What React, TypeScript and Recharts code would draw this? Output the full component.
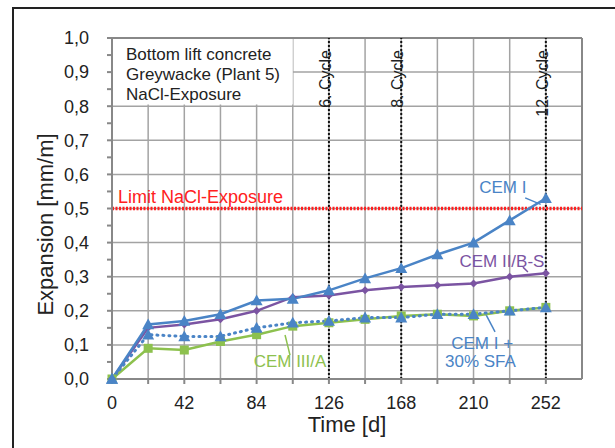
import {
  LineChart,
  Line,
  XAxis,
  YAxis,
  CartesianGrid,
  ReferenceLine,
  ReferenceArea,
  ReferenceDot,
} from 'recharts'

const days = [0, 21, 42, 63, 84, 105, 126, 147, 168, 189, 210, 231, 252]
const cemI = [0, 0.16, 0.17, 0.19, 0.23, 0.235, 0.26, 0.295, 0.325, 0.365, 0.4, 0.465, 0.53]
const cemIIBS = [0, 0.15, 0.16, 0.175, 0.2, 0.24, 0.245, 0.26, 0.27, 0.275, 0.28, 0.3, 0.31]
const cemISFA = [0, 0.13, 0.125, 0.125, 0.15, 0.165, 0.17, 0.18, 0.18, 0.19, 0.19, 0.2, 0.21]
const cemIIIA = [0, 0.09, 0.085, 0.11, 0.13, 0.155, 0.165, 0.175, 0.185, 0.19, 0.185, 0.2, 0.21]

const xTicks = [0, 21, 42, 63, 84, 105, 126, 147, 168, 189, 210, 231, 252]
const yTicks = [0, 0.05, 0.1, 0.15, 0.2, 0.25, 0.3, 0.35, 0.4, 0.45, 0.5, 0.55, 0.6, 0.65, 0.7, 0.75, 0.8, 0.85, 0.9, 0.95, 1]
const yGrid = [0.1, 0.2, 0.3, 0.4, 0.5, 0.6, 0.7, 0.8, 0.9]
const cycles = [
  { day: 126, text: '6. Cycle' },
  { day: 168, text: '8. Cycle' },
  { day: 252, text: '12. Cycle' },
]
const boxLines = ['Bottom lift concrete', 'Greywacke (Plant 5)', 'NaCl-Exposure']

const BLUE = '#4a84c6'
const PURPLE = '#7b54a2'
const GREEN = '#8dc14e'
const FONT = '"Liberation Sans", Arial, Helvetica, sans-serif'

const annotations = [
  { x: 227, y: 0.563, text: 'CEM I', color: BLUE },
  { x: 226.5, y: 0.346, text: 'CEM II/B-S', color: PURPLE },
  { x: 215, y: 0.106, text: 'CEM I +', color: BLUE },
  { x: 214, y: 0.053, text: '30% SFA', color: BLUE },
  { x: 103.4, y: 0.053, text: 'CEM III/A', color: GREEN },
]
const leaders = [
  { from: { x: 240, y: 0.531 }, to: { x: 249, y: 0.512 }, color: BLUE },
  { from: { x: 238.7, y: 0.328 }, to: { x: 241.6, y: 0.314 }, color: PURPLE },
  { from: { x: 222.5, y: 0.138 }, to: { x: 216.7, y: 0.194 }, color: BLUE },
  { from: { x: 103.4, y: 0.07 }, to: { x: 100.5, y: 0.129 }, color: GREEN },
]

const data = days.map((d, i) => ({
  day: d,
  cemI: cemI[i],
  cemIIBS: cemIIBS[i],
  cemISFA: cemISFA[i],
  cemIIIA: cemIIIA[i],
}))

function triangle(p: any, fill: string) {
  const { cx, cy, index } = p
  if (cx == null || cy == null) return <g key={index} />
  const s = 6
  return (
    <path
      key={index}
      d={`M${cx},${cy - s} L${cx + s},${cy + s * 0.8} L${cx - s},${cy + s * 0.8} Z`}
      fill={fill}
    />
  )
}

function square(p: any, fill: string) {
  const { cx, cy, index } = p
  if (cx == null || cy == null) return <g key={index} />
  return <rect key={index} x={cx - 4.5} y={cy - 4.5} width={9} height={9} fill={fill} />
}

function diamond(p: any, fill: string) {
  const { cx, cy, index } = p
  if (cx == null || cy == null) return <g key={index} />
  const s = 4
  return (
    <path key={index} d={`M${cx},${cy - s} L${cx + s},${cy} L${cx},${cy + s} L${cx - s},${cy} Z`} fill={fill} />
  )
}

export default function App() {
  return (
    <div style={{ position: 'absolute', left: 0, top: 0, width: 615, height: 448, background: '#fff' }}>
      <div
        style={{
          position: 'absolute',
          left: 12,
          top: 7,
          width: 603,
          height: 441,
          borderLeft: '2px solid #222',
          borderTop: '2px solid #222',
          pointerEvents: 'none',
        }}
      />
      <LineChart
        width={615}
        height={448}
        data={data}
        margin={{ top: 38, right: 33, left: 52, bottom: 39 }}
        style={{ fontFamily: FONT }}
      >
        <CartesianGrid stroke="#a3a3a3" strokeWidth={1.5} horizontalValues={yGrid} verticalValues={xTicks.slice(1)} />
        <XAxis
          dataKey="day"
          type="number"
          domain={[0, 273]}
          ticks={xTicks}
          interval={0}
          height={30}
          tickSize={5}
          tickMargin={12}
          stroke="#888"
          strokeWidth={2}
          tick={{ fill: '#222', fontSize: 18, fontFamily: FONT }}
          tickFormatter={(v: number) => (v % 42 === 0 ? String(v) : '')}
          label={(p: any) => {
            const vb = p.viewBox
            return (
              <text
                x={vb.x + vb.width / 2}
                y={vb.y + 45}
                textAnchor="middle"
                dominantBaseline="central"
                fontSize={22}
                fontFamily={FONT}
                fill="#222"
              >
                Time [d]
              </text>
            )
          }}
        />
        <YAxis
          type="number"
          domain={[0, 1]}
          ticks={yTicks}
          interval={0}
          width={60}
          tickSize={5}
          tickMargin={18}
          stroke="#888"
          strokeWidth={2}
          tick={{ fill: '#222', fontSize: 18, fontFamily: FONT }}
          tickFormatter={(v: number) => (Math.round(v * 100) % 10 === 0 ? v.toFixed(1).replace('.', ',') : '')}
          label={(p: any) => {
            const vb = p.viewBox
            const tx = vb.x - 7
            const ty = vb.y + vb.height / 2 + 16
            return (
              <text
                x={tx}
                y={ty}
                transform={`rotate(-90 ${tx} ${ty})`}
                textAnchor="middle"
                dominantBaseline="central"
                fontSize={22}
                fontFamily={FONT}
                fill="#222"
              >
                Expansion [mm/m]
              </text>
            )
          }}
        />
        <ReferenceLine y={1} stroke="#888" strokeWidth={2} />
        <ReferenceLine x={273} stroke="#888" strokeWidth={2} />
        <ReferenceArea
          x1={0}
          x2={105}
          y1={0.805}
          y2={1}
          fill="#fff"
          fillOpacity={1}
          stroke="none"
          label={(p: any) => {
            const vb = p.viewBox
            return (
              <text fontSize={17} fontFamily={FONT} fill="#222">
                {boxLines.map((t, i) => (
                  <tspan key={t} x={vb.x + 14} y={vb.y + 22 + i * 20}>
                    {t}
                  </tspan>
                ))}
              </text>
            )
          }}
        />
        {cycles.map((c) => (
          <ReferenceLine
            key={c.day}
            x={c.day}
            stroke="#111"
            strokeWidth={2}
            strokeDasharray="2 2"
            label={(p: any) => {
              const vb = p.viewBox
              const tx = vb.x + 2
              const ty = vb.y + 12
              return (
                <text
                  x={tx}
                  y={ty}
                  transform={`rotate(-90 ${tx} ${ty})`}
                  textAnchor="end"
                  fontSize={16}
                  fontFamily={FONT}
                  fill="#222"
                >
                  {c.text}
                </text>
              )
            }}
          />
        ))}
        <ReferenceLine
          y={0.5}
          stroke="#ff2020"
          strokeWidth={3.5}
          strokeDasharray="2 1.5"
          label={{
            value: 'Limit NaCl-Exposure',
            position: 'insideBottomLeft',
            offset: 6,
            fill: '#ff2020',
            fontSize: 18,
            fontFamily: FONT,
          }}
        />
        {leaders.map((l, i) => (
          <ReferenceLine key={'l' + i} segment={[l.from, l.to]} stroke={l.color} strokeWidth={1.5} />
        ))}
        {annotations.map((a) => (
          <ReferenceDot
            key={a.text}
            x={a.x}
            y={a.y}
            r={0}
            fill="none"
            stroke="none"
            label={{ value: a.text, position: 'center', fill: a.color, fontSize: 17, fontFamily: FONT }}
          />
        ))}
        <Line
          dataKey="cemIIIA"
          stroke={GREEN}
          strokeWidth={2.5}
          dot={(p: any) => square(p, GREEN)}
          isAnimationActive={false}
        />
        <Line
          dataKey="cemIIBS"
          stroke={PURPLE}
          strokeWidth={2.5}
          dot={(p: any) => diamond(p, PURPLE)}
          isAnimationActive={false}
        />
        <Line
          dataKey="cemISFA"
          stroke={BLUE}
          strokeWidth={3}
          strokeDasharray="1 5"
          strokeLinecap="round"
          dot={(p: any) => triangle(p, BLUE)}
          isAnimationActive={false}
        />
        <Line
          dataKey="cemI"
          stroke={BLUE}
          strokeWidth={2.5}
          dot={(p: any) => triangle(p, BLUE)}
          isAnimationActive={false}
        />
      </LineChart>
    </div>
  )
}
